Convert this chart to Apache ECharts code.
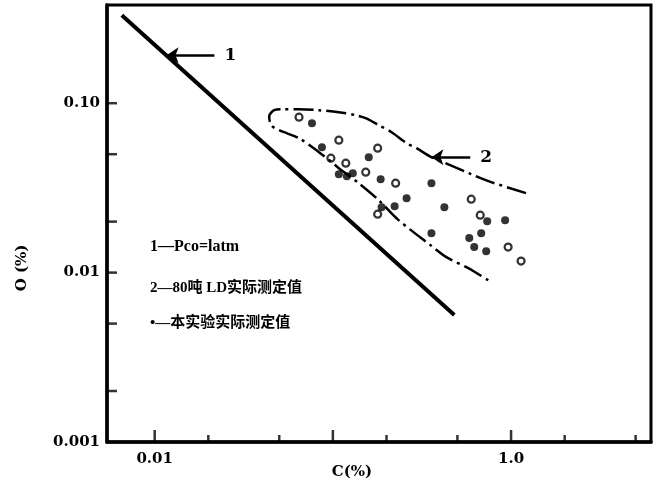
<!DOCTYPE html>
<html>
<head>
<meta charset="utf-8">
<script src="https://cdn.jsdelivr.net/npm/echarts@6/dist/echarts.min.js"></script>
<style>html,body{margin:0;padding:0;background:#fff;}#c{width:654px;height:498px;}</style>
</head>
<body>
<div id="c"></div>
<script>
// ---- data ----
const line1 = [[0.00654, 0.3305], [0.4803, 0.005614]];           // 1 — Pco = 1 atm
const envelope2 = [                                               // 2 — 80t LD measured range
  [1.213, 0.02944], [0.7733, 0.0342], [0.6978, 0.03562], [0.5978, 0.03812],
  [0.4279, 0.04426], [0.3574, 0.04801], [0.2947, 0.05425], [0.2592, 0.05808],
  [0.2137, 0.06744], [0.1807, 0.07418], [0.1529, 0.08155], [0.1345, 0.08494],
  [0.108, 0.08849], [0.08355, 0.09093], [0.06457, 0.09218], [0.0519, 0.09218],
  [0.04682, 0.09093], [0.04391, 0.08381], [0.04505, 0.07418], [0.04993, 0.06929],
  [0.06457, 0.06214], [0.08355, 0.0514], [0.09874, 0.04487], [0.108, 0.04135],
  [0.1397, 0.03373], [0.1807, 0.02678], [0.2338, 0.0204], [0.3528, 0.01453],
  [0.4335, 0.01234], [0.5752, 0.01063], [0.7733, 0.008788]
];
const openPts = [
  [0.06457, 0.08268], [0.108, 0.06047], [0.09747, 0.04736], [0.1182, 0.04426],
  [0.1784, 0.05425], [0.1529, 0.03917], [0.225, 0.03373], [0.1784, 0.02214],
  [0.5978, 0.02714], [0.6714, 0.02184], [0.9625, 0.01414], [1.138, 0.01169]
];
const filledPts = [
  [0.07632, 0.07621], [0.08683, 0.055], [0.159, 0.04801], [0.108, 0.03812],
  [0.1198, 0.03709], [0.1294, 0.03864], [0.1854, 0.03562], [0.3574, 0.03373],
  [0.2592, 0.02751], [0.2221, 0.02468], [0.1878, 0.02434], [0.4224, 0.02434],
  [0.7346, 0.02012], [0.926, 0.0204], [0.3574, 0.0171], [0.68, 0.0171],
  [0.5827, 0.01598], [0.6215, 0.01414], [0.7253, 0.01339]
];
const arrow1 = [[0.01166, 0.1919], [0.02164, 0.1919]];
const arrow2 = [[0.3573, 0.04801], [0.5902, 0.04801]];
const arrowNames = ['1', '2'];
const xTickMajor = [0.01, 0.1, 1];
const xTickMinor = [0.02, 0.05, 0.2, 0.5, 2, 5];
const yTicks = [0.1, 0.05, 0.02, 0.01, 0.005, 0.002];
const xLabels = {'-2': '0.01', '0': '1.0'};
const yLabels = {'-1': '0.10', '-2': '0.01', '-3': '0.001'};
const legendLines = ['1—Pco=latm', '2—80吨 LD实际测定值', '•—本实验实际测定值'];
const xName = 'C(%)';
const yName = 'O (%)';

const X_MIN = 0.0054, X_MAX = 6.1, Y_MIN = 0.001, Y_MAX = 0.38;
const FONT = '"DejaVu Serif", "Noto Sans CJK SC", serif';
const CJK = '"Liberation Serif", "Noto Sans CJK SC", serif';

function fmt(map) {
  return function (v) {
    const l = Math.log10(v), e = Math.round(l);
    if (Math.abs(l - e) < 1e-6 && map[String(e)] !== undefined) return map[String(e)];
    return '';
  };
}

const chart = echarts.init(document.getElementById('c'), null, {renderer: 'canvas'});
chart.setOption({
  backgroundColor: '#fff',
  animation: false,
  grid: {left: 107, right: 0, top: 5, bottom: 56, show: true, borderColor: '#000', borderWidth: 3},
  xAxis: {
    type: 'log', min: X_MIN, max: X_MAX,
    axisLine: {lineStyle: {color: '#000', width: 3.5}},
    axisTick: {show: false}, splitLine: {show: false}, minorTick: {show: false},
    axisLabel: {formatter: fmt(xLabels), color: '#000', fontFamily: FONT, fontWeight: 'bold',
      fontSize: 15, margin: 10, interval: 0, showMinLabel: true, showMaxLabel: true}
  },
  yAxis: {
    type: 'log', min: Y_MIN, max: Y_MAX,
    axisLine: {lineStyle: {color: '#000', width: 3.5}},
    axisTick: {show: false}, splitLine: {show: false}, minorTick: {show: false},
    axisLabel: {formatter: fmt(yLabels), color: '#000', fontFamily: FONT, fontWeight: 'bold',
      fontSize: 15, margin: 7, interval: 0, showMinLabel: true, showMaxLabel: true}
  },
  graphic: [
    {type: 'text', left: 150, top: 239, style: {text: legendLines[0], font: 'bold 16px ' + CJK, fill: '#000'}},
    {type: 'text', left: 150, top: 281, style: {text: legendLines[1], font: 'bold 15px ' + CJK, fill: '#000'}},
    {type: 'text', left: 150, top: 316, style: {text: legendLines[2], font: 'bold 15px ' + CJK, fill: '#000'}},
    {type: 'text', x: 22, y: 268, rotation: Math.PI / 2,
      style: {text: yName, font: 'bold 15px ' + FONT, fill: '#000', align: 'center', verticalAlign: 'middle'}},
    {type: 'text', x: 352, y: 472,
      style: {text: xName, font: 'bold 15px ' + FONT, fill: '#000', align: 'center', verticalAlign: 'middle'}}
  ],
  series: [
    {type: 'line', data: line1, showSymbol: false, lineStyle: {color: '#000', width: 4}, silent: true},
    {type: 'line', data: envelope2, showSymbol: false, smooth: 0.3,
      lineStyle: {color: '#000', width: 2.5, type: [20, 5, 3, 5]}, silent: true},
    {type: 'scatter', data: filledPts, symbol: 'circle', symbolSize: 8,
      itemStyle: {color: '#000'}},
    {type: 'scatter', data: openPts, symbol: 'circle', symbolSize: 7,
      itemStyle: {color: '#fff', borderColor: '#000', borderWidth: 2.2}},
    {type: 'lines', coordinateSystem: 'cartesian2d', symbol: ['arrow', 'none'], symbolSize: [12, 15],
      lineStyle: {color: '#000', width: 2.5, opacity: 1, curveness: 0},
      label: {show: true, position: 'end', distance: 10, color: '#000', opacity: 1,
        fontFamily: FONT, fontWeight: 'bold', fontSize: 17,
        formatter: p => arrowNames[p.dataIndex]},
      data: [{coords: arrow1}, {coords: arrow2}]},
    {type: 'scatter', data: xTickMajor.map(v => [v, Y_MIN]), symbol: 'rect', symbolSize: [2.5, 12],
      symbolOffset: [0, -6], itemStyle: {color: '#000'}, silent: true},
    {type: 'scatter', data: xTickMinor.map(v => [v, Y_MIN]), symbol: 'rect', symbolSize: [2.5, 7],
      symbolOffset: [0, -3.5], itemStyle: {color: '#000'}, silent: true},
    {type: 'scatter', data: yTicks.map(v => [X_MIN, v]), symbol: 'rect', symbolSize: [10, 2.5],
      symbolOffset: [5, 0], itemStyle: {color: '#000'}, silent: true}
  ]
});
</script>
</body>
</html>
